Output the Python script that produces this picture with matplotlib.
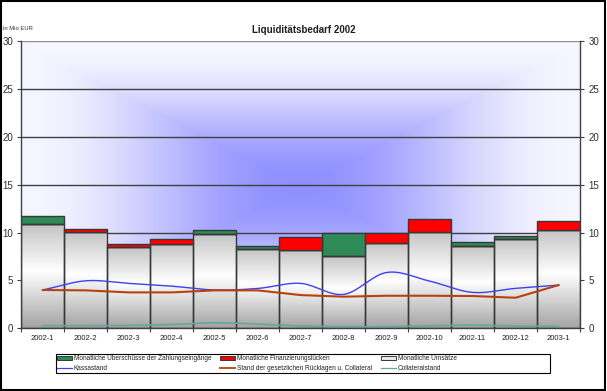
import numpy as np
import matplotlib
matplotlib.use("Agg")
import matplotlib.pyplot as plt
from matplotlib.patches import Rectangle
from matplotlib.lines import Line2D
from matplotlib.colors import LinearSegmentedColormap

categories = ['2002-1', '2002-2', '2002-3', '2002-4', '2002-5', '2002-6', '2002-7',
              '2002-8', '2002-9', '2002-10', '2002-11', '2002-12', '2003-1']
umsaetze = [10.85, 10.05, 8.45, 8.85, 9.85, 8.25, 8.2, 7.5, 8.95, 10.05, 8.6, 9.3, 10.25]
ueberschuesse = [0.9, 0, 0, 0, 0.45, 0.35, 0, 2.45, 0, 0, 0.45, 0.35, 0]
luecken = [0, 0.35, 0.35, 0.5, 0, 0, 1.3, 0, 1.0, 1.35, 0, 0, 0.95]
kassastand = [4.0, 4.96, 4.69, 4.4, 4.0, 4.16, 4.69, 3.54, 5.83, 4.93, 3.75, 4.17, 4.51]
ruecklagen = [4.0, 3.96, 3.75, 3.75, 3.96, 3.96, 3.47, 3.3, 3.4, 3.4, 3.37, 3.19, 4.51]
collateral = [0.27, 0.27, 0.3, 0.4, 0.58, 0.44, 0.24, 0.17, 0.17, 0.27, 0.33, 0.24, 0.2]
yticks = [0, 5, 10, 15, 20, 25, 30]
legend_labels = ['Monatliche Überschüsse der Zahlungseingänge', 'Monatliche Finanzierungslücken',
                 'Monatliche Umsätze', 'Kassastand',
                 'Stand der gesetzlichen Rücklagen u. Collateral', 'Collateralstand']

plt.rcParams['font.family'] = ['Liberation Sans', 'DejaVu Sans']

GREEN = '#2e8b57'
RED = '#ff0000'
BLUE = '#4040f0'
BROWN = '#b8420f'
TEAL = '#5faaa0'
EDGE = '#383838'

W, H = 607, 391
fig = plt.figure(figsize=(W / 100, H / 100), dpi=100)
fig.patch.set_facecolor('white')


def fx(px):
    return px / W


def fy(py):
    return 1 - py / H


# outer frame
fig.add_artist(Rectangle((0.002, 0.003), 0.995, 0.994, transform=fig.transFigure,
                         fill=False, edgecolor='black', linewidth=1.5))

ax = fig.add_axes([fx(21.3), fy(328.3), (580 - 21.3) / W, (328.3 - 41) / H])
n = len(categories)
x = np.arange(n)

# background: rectangular "from center" gradient
gx = np.linspace(-1, 1, 500)
gy = np.linspace(-1, 1, 300)
GX, GY = np.meshgrid(gx, gy)
d = np.clip(np.maximum(np.abs(GX), np.abs(GY + 0.02)), 0, 1)
t = np.cos(np.pi * d / 2) ** 2
c_center = np.array([0x90, 0x90, 0xff]) / 255
c_edge = np.array([0xf6, 0xf6, 0xff]) / 255
img = c_edge[None, None, :] * (1 - t[..., None]) + c_center[None, None, :] * t[..., None]
ax.imshow(img, extent=[-0.5, n - 0.5, 0, 30], origin='lower', aspect='auto', zorder=0,
          interpolation='bilinear')

# gridlines
for yv in yticks[1:]:
    ax.axhline(yv, color='#404040' if yv < 30 else '#909090', linewidth=1.0, zorder=1)

# gray bars with vertical gradient
bar_cmap = LinearSegmentedColormap.from_list('g', [(0, '#a4a4a4'), (0.55, '#ffffff'), (1.0, '#c4c4c4')])
grad = np.linspace(0, 1, 200)[:, None]
for i, h in enumerate(umsaetze):
    ax.imshow(grad, cmap=bar_cmap, extent=[i - 0.5, i + 0.5, 0, h], origin='lower',
              aspect='auto', zorder=2, vmin=0, vmax=1)
ax.bar(x, umsaetze, width=1.0, facecolor='none', edgecolor=EDGE, linewidth=1.0, zorder=3)
ax.bar(x, ueberschuesse, bottom=umsaetze, width=1.0, color=GREEN, edgecolor=EDGE,
       linewidth=1.0, zorder=3)
ax.bar(x, luecken, bottom=umsaetze, width=1.0, color=RED, edgecolor=EDGE,
       linewidth=1.0, zorder=3)
ax.set_xlim(-0.5, n - 0.5)
ax.set_ylim(0, 30)


def smooth(xs, ys, steps=30):
    xs = np.asarray(xs, float)
    ys = np.asarray(ys, float)
    P = np.column_stack([xs, ys])
    P = np.vstack([P[0] - (P[1] - P[0]), P, P[-1] + (P[-1] - P[-2])])
    out = []
    for i in range(1, len(P) - 2):
        p0, p1, p2, p3 = P[i - 1], P[i], P[i + 1], P[i + 2]
        tt = np.linspace(0, 1, steps, endpoint=False)[:, None]
        c1 = p1 + (p2 - p0) / 6
        c2 = p2 - (p3 - p1) / 6
        b = ((1 - tt) ** 3) * p1 + 3 * ((1 - tt) ** 2) * tt * c1 + 3 * (1 - tt) * tt ** 2 * c2 + tt ** 3 * p2
        out.append(b)
    out.append(P[-2][None, :])
    out = np.vstack(out)
    return out[:, 0], out[:, 1]


bx, by = smooth(x, kassastand)
ax.plot(bx, by, color=BLUE, linewidth=1.0, zorder=4)
ax.plot(x, ruecklagen, color=BROWN, linewidth=1.5, zorder=4)
cx2, cy2 = smooth(x, collateral)
ax.plot(cx2, cy2, color=TEAL, linewidth=1.2, zorder=4)

# axes styling
ax.spines['top'].set_visible(False)
for s in ['left', 'right', 'bottom']:
    ax.spines[s].set_color('#404040')
    ax.spines[s].set_linewidth(1.0)
    ax.spines[s].set_zorder(5)
ax.set_yticks(yticks)
ax.tick_params(axis='y', which='both', direction='out', length=3, width=0.8, color='#404040',
               labelsize=7, labelcolor='#303030', left=True, right=True,
               labelleft=True, labelright=True, pad=3)
ax.set_xticks(x)
ax.set_xticklabels(categories, fontsize=5.5, color='#202020')
ax.set_xticks(np.arange(-0.5, n, 1), minor=True)
ax.tick_params(axis='x', which='major', length=0, pad=5)
ax.tick_params(axis='x', which='minor', length=3, width=0.8, color='#404040', direction='out')

fig.text(0.5, fy(30), 'Liquiditätsbedarf 2002', ha='center', va='center', fontsize=7,
         fontweight='bold', color='#202020')
fig.text(fx(3), fy(29), 'in Mio EUR', ha='left', va='center', fontsize=4.2, color='#303030')

# legend drawn manually in pixel positions
fig.add_artist(Rectangle((fx(56), fy(372.5)), (550 - 56) / W, (372.5 - 354) / H,
                         transform=fig.transFigure, facecolor='white', edgecolor='black',
                         linewidth=0.8))
col_x = [57, 220, 381]
row_y = [358, 368]
handle_w = 15
kinds = [('patch', GREEN), ('patch', RED), ('patch', '#e8e8e8'),
         ('line', BLUE), ('line', BROWN), ('line', TEAL)]
for k, (kind, col) in enumerate(kinds):
    r, c = divmod(k, 3)
    x0 = col_x[c]
    yc = row_y[r]
    if kind == 'patch':
        fig.add_artist(Rectangle((fx(x0), fy(yc + 2.2)), handle_w / W, 4.4 / H,
                                 transform=fig.transFigure, facecolor=col, edgecolor=EDGE,
                                 linewidth=0.7))
    else:
        fig.add_artist(Line2D([fx(x0), fx(x0 + handle_w)], [fy(yc), fy(yc)],
                              transform=fig.transFigure, color=col,
                              linewidth=1.3 if col == BROWN else 0.9))
    fig.text(fx(x0 + handle_w + 2), fy(yc), legend_labels[k], ha='left', va='center',
             fontsize=4.7, color='#202020')

fig.savefig('out.png', dpi=100)
